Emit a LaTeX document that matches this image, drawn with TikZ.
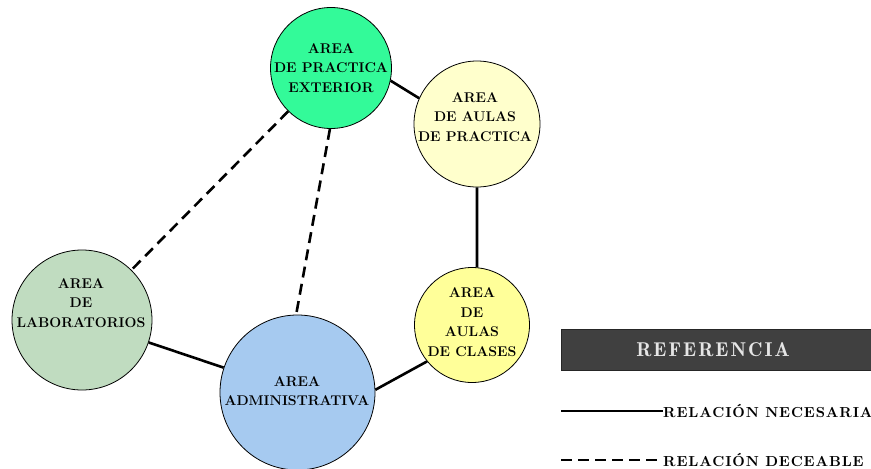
\documentclass[tikz,border=0pt]{standalone}
\usepackage{fontspec}
\newfontfamily\legfont[LetterSpace=6]{lmroman10-bold.otf}
\newfontfamily\titlefont[LetterSpace=10]{lmromandemi10-regular.otf}
\begin{document}
\begin{tikzpicture}[x=1pt,y=-1pt,
  area/.style={circle,draw=black,line width=0.8pt,inner sep=0pt},
  areatext/.style={align=center,font=\bfseries\fontsize{14.1}{19.5}\selectfont},
  rel/.style={line width=2.6pt},
  relopt/.style={line width=2.6pt,dash pattern=on 11pt off 6.5pt},
  legtext/.style={anchor=west,inner sep=0pt,font=\legfont\fontsize{14.5}{16}\selectfont}]
\definecolor{extgreen}{HTML}{33FA99}
\definecolor{palecream}{HTML}{FFFFCC}
\definecolor{moneygreen}{HTML}{C0DCC0}
\definecolor{skyblue}{HTML}{A6CAF0}
\definecolor{paleyellow}{HTML}{FFFF99}
\definecolor{legbox}{HTML}{404040}
\useasboundingbox (0,0) rectangle (871,469);

% areas
\node[area,fill=extgreen,minimum size=121pt] (ext) at (331,68) {};
\node[area,fill=palecream,minimum size=126pt] (pra) at (477,124) {};
\node[area,fill=moneygreen,minimum size=140pt] (lab) at (82,320) {};
\node[area,fill=skyblue,minimum size=155pt] (adm) at (297.5,392.5) {};
\node[area,fill=paleyellow,minimum size=115pt] (cla) at (472,325) {};

% labels
\node[areatext] (extt) at (331,68) {AREA\\DE PRACTICA\\EXTERIOR};
\node[areatext] (prat) at (475,117) {AREA\\DE AULAS\\DE PRACTICA};
\node[areatext] (labt) at (81,303) {AREA\\DE\\LABORATORIOS};
\node[areatext] (admt) at (297,391) {AREA\\ADMINISTRATIVA};
\node[areatext] (clat) at (472,322) {AREA\\DE\\AULAS\\DE CLASES};

% relations
\draw[rel] (ext.-12) -- (pra.156);
\draw[rel] (pra.270) -- (cla.85);
\draw[rel] (cla.219) -- (adm.2);
\draw[rel] (lab) -- (adm);
\draw[relopt] (ext) -- (lab);
\draw[relopt] (ext.269) -- (adm.91);

% legend
\node[fill=legbox,draw=black!85,line width=0.6pt,minimum width=310pt,minimum height=41pt,
  inner sep=0pt] (ref) at (716,350) {};
\node[text=white!90!black,font=\titlefont\fontsize{20}{22}\selectfont] (reft) at (713,350) {REFERENCIA};
\coordinate (s0) at (561,411);
\node[legtext] (snec) at (663,411) {RELACIÓN NECESARIA};
\draw[line width=2pt] (s0) -- (snec.west);
\coordinate (d0) at (561,460);
\node[legtext] (sdes) at (663,460) {RELACIÓN DECEABLE};
\draw[line width=2pt,dash pattern=on 11pt off 6pt] (d0) -- (sdes.west);
\end{tikzpicture}
\end{document}
